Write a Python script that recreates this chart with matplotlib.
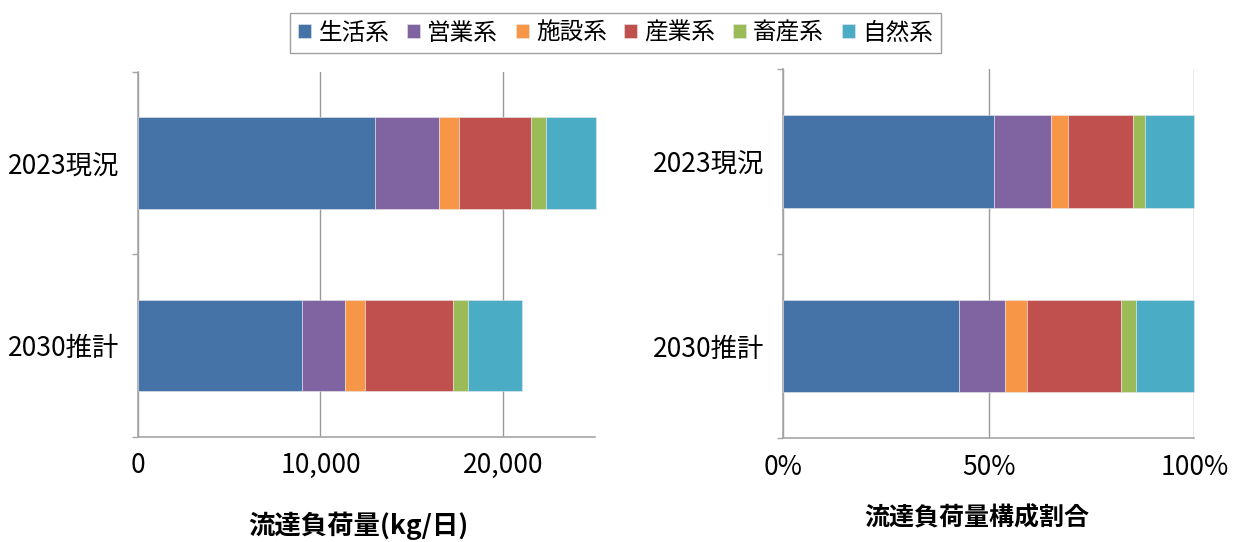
import matplotlib.pyplot as plt
from matplotlib.ticker import FuncFormatter, FixedLocator

plt.rcParams['font.family'] = ['Noto Sans CJK JP', 'DejaVu Sans']

# data
cases = ["2023現況", "2030推計"]
sources = ["生活系", "営業系", "施設系", "産業系", "畜産系", "自然系"]
colors = ["#4572A7", "#8064A2", "#F79646", "#C0504D", "#9BBB59", "#4BACC6"]

# load in kg/day, one list per source (2023, 2030)
load_kg = {
    "生活系": [13000, 9010],
    "営業系": [3490, 2340],
    "施設系": [1095, 1095],
    "産業系": [3960, 4815],
    "畜産系": [790, 805],
    "自然系": [2750, 2955],
}
# share of total in %, as drawn in the right panel
share_pct = {
    "生活系": [51.4, 42.8],
    "営業系": [13.7, 11.2],
    "施設系": [4.2, 5.3],
    "産業系": [15.7, 22.8],
    "畜産系": [3.1, 3.8],
    "自然系": [11.9, 14.1],
}

fig = plt.figure(figsize=(12.5, 5.42), dpi=100)
ax1 = fig.add_axes([0.1102, 0.1937, 0.3654, 0.674])
ax2 = fig.add_axes([0.6262, 0.1913, 0.3293, 0.6808])

grey = "#a6a6a6"


def stacked(ax, data):
    left = [0] * len(cases)
    ypos = list(range(len(cases)))
    bars = []
    for src, col in zip(sources, colors):
        vals = data[src]
        b = ax.barh(ypos, vals, left=left, height=0.5, color=col,
                    edgecolor="#e8e8e8", linewidth=0.4, label=src, clip_on=False, zorder=3)
        bars.append(b)
        left = [l + v for l, v in zip(left, vals)]
    ax.set_ylim(1.5, -0.5)
    ax.set_yticks(ypos)
    ax.set_yticklabels(cases, fontsize=19)
    ax.yaxis.set_minor_locator(FixedLocator([-0.5, 0.5, 1.5]))
    ax.tick_params(axis="y", which="major", length=0, pad=13)
    ax.tick_params(axis="y", which="minor", length=4.5, color=grey, width=1)
    ax.tick_params(axis="x", length=0, pad=11, labelsize=19)
    for s in ["top", "right"]:
        ax.spines[s].set_visible(False)
    for s in ["left", "bottom"]:
        ax.spines[s].set_color(grey)
        ax.spines[s].set_linewidth(1.2)
    ax.grid(axis="x", color="#999999", linewidth=1, zorder=0)
    ax.set_axisbelow(True)
    return bars


bars = stacked(ax1, load_kg)
ax1.set_xlim(0, 25000)
ax1.set_xticks([0, 10000, 20000])
ax1.xaxis.set_major_formatter(FuncFormatter(lambda v, p: f"{int(v):,}"))

stacked(ax2, share_pct)
ax2.set_xlim(0, 100)
ax2.set_xticks([0, 50, 100])
ax2.xaxis.set_major_formatter(FuncFormatter(lambda v, p: f"{int(v)}%"))

fig.text(0.2865, 0.0295, "流達負荷量(kg/日)", ha="center", va="center",
         fontsize=19, fontweight="bold")
fig.text(0.7816, 0.0443, "流達負荷量構成割合", ha="center", va="center",
         fontsize=18, fontweight="bold")

leg = fig.legend(bars, sources, loc="center", bbox_to_anchor=(0.4924, 0.939),
                 ncol=6, fontsize=17, frameon=True, fancybox=False,
                 handlelength=0.55, handleheight=0.55, handletextpad=0.3,
                 columnspacing=0.75, borderpad=0.35)
leg.get_frame().set_edgecolor("#888888")
leg.get_frame().set_linewidth(1)

fig.savefig("out.png", dpi=100)
